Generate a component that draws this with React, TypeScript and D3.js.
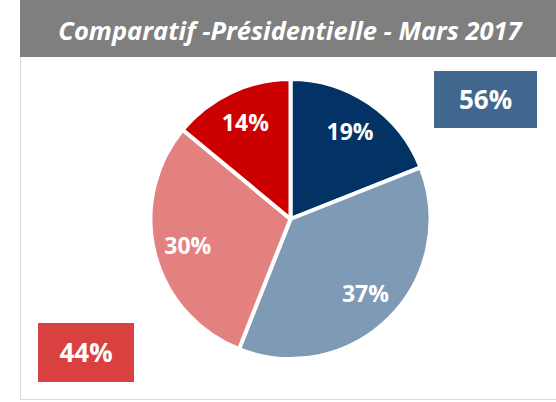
import React, { useEffect, useRef } from "react";
import * as d3 from "d3";

const title = "Comparatif -Présidentielle - Mars 2017";
const candidates = ["A", "B", "C", "D"];
const shares = [19, 37, 30, 14];
const sliceColors = ["#033264", "#7f9ab4", "#e38080", "#cc0000"];
const totals = ["56%", "44%"];
const totalColors = ["#41678f", "#d94040"];

export default function App() {
  const svgRef = useRef<SVGSVGElement>(null);
  const width = 556;
  const height = 402;

  useEffect(() => {
    if (!svgRef.current) return;
    const svg = d3.select(svgRef.current);
    svg.selectAll("*").remove();

    // frame
    svg.append("rect")
      .attr("x", 20.5).attr("y", 0.5)
      .attr("width", width).attr("height", 399)
      .attr("fill", "#fff")
      .attr("stroke", "#d9d9d9");

    svg.append("rect")
      .attr("x", 20).attr("y", 0)
      .attr("width", width - 20).attr("height", 57)
      .attr("fill", "#7f7f7f");

    svg.append("text")
      .attr("x", 290).attr("y", 40)
      .attr("text-anchor", "middle")
      .attr("fill", "#fff")
      .style("font-family", "'Open Sans', sans-serif")
      .style("font-style", "italic")
      .style("font-weight", "bold")
      .style("font-size", "25.5px")
      .text(title);

    const cx = 290.5, cy = 219, r = 140;
    const pie = d3.pie<number>().sort(null).value(d => d);
    const arcs = pie(shares);
    const arc = d3.arc<d3.PieArcDatum<number>>().innerRadius(0).outerRadius(r);
    const labelArc = d3.arc<d3.PieArcDatum<number>>().innerRadius(106).outerRadius(106);

    const g = svg.append("g").attr("transform", `translate(${cx},${cy})`);
    g.selectAll("path")
      .data(arcs)
      .join("path")
      .attr("d", arc)
      .attr("fill", (d, i) => sliceColors[i])
      .attr("stroke", "#fff")
      .attr("stroke-width", 4)
      .attr("stroke-linejoin", "round");

    g.selectAll("text")
      .data(arcs)
      .join("text")
      .attr("transform", d => `translate(${labelArc.centroid(d)})`)
      .attr("text-anchor", "middle")
      .attr("dy", "0.36em")
      .attr("fill", "#fff")
      .style("font-family", "'Open Sans', sans-serif")
      .style("font-weight", "bold")
      .style("font-size", "23px")
      .text(d => `${d.data}%`);

    // totals boxes
    const boxes = [
      { x: 434, y: 71, w: 103, h: 57 },
      { x: 38, y: 323, w: 96, h: 59 },
    ];
    boxes.forEach((b, i) => {
      svg.append("rect")
        .attr("x", b.x).attr("y", b.y)
        .attr("width", b.w).attr("height", b.h)
        .attr("fill", totalColors[i]);
      svg.append("text")
        .attr("x", b.x + b.w / 2).attr("y", b.y + b.h / 2)
        .attr("dy", "0.36em")
        .attr("text-anchor", "middle")
        .attr("fill", "#fff")
        .style("font-family", "'Open Sans', sans-serif")
        .style("font-weight", "bold")
        .style("font-size", "26px")
        .text(totals[i]);
    });
  }, []);

  return (
    <svg
      ref={svgRef}
      width={width}
      height={height}
      data-series={candidates.join(",")}
      style={{ position: "absolute", left: 0, top: 0, display: "block" }}
    />
  );
}
